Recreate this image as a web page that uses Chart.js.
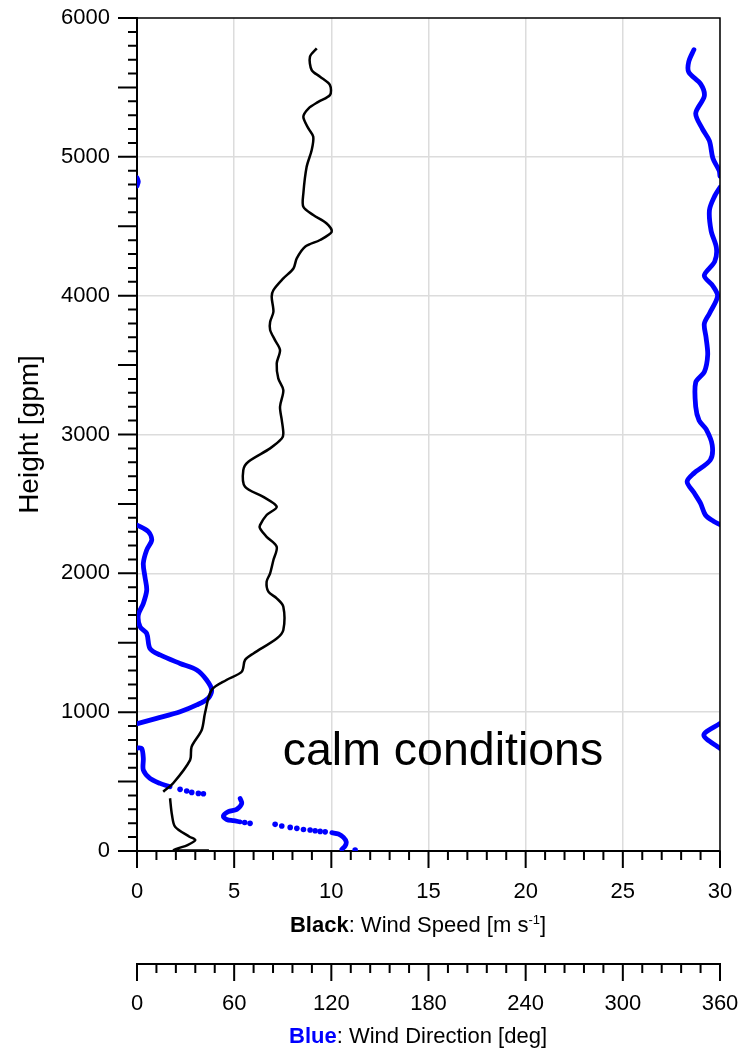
<!DOCTYPE html>
<html>
<head>
<meta charset="utf-8">
<script src="https://cdn.jsdelivr.net/npm/chart.js@4.4.1/dist/chart.umd.min.js"></script>
<style>
  body { margin: 0; background: #fff; }
  canvas { display: block; }
</style>
</head>
<body>
<canvas id="profileChart" width="740" height="1052"></canvas>
<script>
// Wind speed [m/s], height [gpm]; the sounding drops out between ~380 and ~420 gpm
const speedLow = [[3.7,3],[1.9,6],[2.1,19],[2.6,43],[3.0,79],[2.7,103],[1.96,175],[1.8,259],[1.7,380]];
const speedHigh = [[1.35,427],[1.87,490],[2.73,655],[2.81,751],[3.33,872],[3.5,994],[3.84,1160],[4.6,1232],
  [5.39,1291],[5.56,1376],[5.99,1423],[7.19,1531],[7.53,1592],[7.53,1760],[7.19,1820],[6.76,1868],[6.67,1940],
  [6.85,2000],[7.02,2096],[7.19,2191],[6.67,2263],[6.33,2323],[6.33,2347],[6.67,2420],[7.19,2480],[6.5,2551],
  [5.56,2623],[5.47,2744],[5.73,2804],[6.85,2900],[7.45,2971],[7.53,3007],[7.45,3104],[7.36,3200],[7.53,3320],
  [7.27,3404],[7.19,3512],[7.36,3608],[7.1,3680],[6.85,3753],[6.85,3811],[7.02,3884],[6.93,3992],[7.02,4040],
  [7.53,4124],[8.05,4196],[8.22,4268],[8.65,4352],[9.42,4401],[10.02,4460],[9.76,4520],[9.07,4581],[8.56,4640],
  [8.56,4736],[8.73,4928],[8.99,5049],[9.07,5145],[8.82,5205],[8.56,5288],[8.82,5348],[9.33,5396],[9.93,5445],
  [9.93,5517],[9.42,5577],[8.99,5625],[8.9,5721],[9.25,5781]];

// Wind direction [deg], height [gpm]; pieces split where the profile wraps past 0/360
const dirTop = [[343.9,5772],[340.7,5685],[340.7,5610],[348.1,5524],[350.3,5437],[345.0,5313],[349.2,5200],
  [353.5,5114],[355.6,4989],[359.5,4900],[360,4860]];
const dirWrap = [[0,4850],[0.8,4820],[0,4790]];
const dirUpper = [[360,4780],[356.7,4717],[353.5,4617],[354.5,4468],[357.8,4344],[356.7,4245],[350.3,4145],
  [355.6,4070],[358.5,3996],[353.5,3872],[350.3,3797],[351.4,3698],[352.4,3574],[350.3,3450],[345.0,3375],
  [345.0,3200],[347.1,3101],[351.4,3038],[355.2,2924],[354,2816],[343.8,2720],[339.7,2660],[344,2580],
  [348,2504],[351,2420],[356,2375],[360,2350]];
const dirMid = [[0,2348],[7.0,2300],[9.1,2240],[6.0,2168],[3.9,2072],[4.9,1975],[6.0,1880],[3.9,1783],
  [0.8,1700],[1.9,1615],[6.0,1567],[8.0,1459],[14.2,1412],[26.6,1351],[36.9,1304],[43.0,1232],[46.1,1160],
  [44.0,1100],[36.9,1052],[26.6,1003],[12.1,955],[0.8,919],[0,916]];
const dirKink = [[360,919],[350,835],[360,739]];
const dirLow = [[0,742],[2.9,739],[3.9,667],[3.9,583],[8.0,523],[14.2,487],[20.4,463]];
const dirHook = [[63.7,378],[64.7,343],[61.6,300],[56.4,283],[53.3,251],[55.4,227],[59.5,218],[63.7,210]];
const dirSurface = [[120.3,132],[124.4,122],[127.5,98],[129.2,66],[128.5,36],[126.5,12]];
// single readings where the balloon climbed fast
const dirDots = [[26.6,444],[30.7,432],[33.8,422],[37.9,415],[41.0,412],[66.5,205],[69.8,199],
  [85.3,192],[89.4,180],[94.6,170],[98.7,163],[102.8,155],[106.9,151],[110,146],[113.1,141],[116.2,138],
  [134.7,6]];

const FONT = '"Liberation Sans", Arial, sans-serif';
const toXY = arr => arr.map(p => ({ x: p[0], y: p[1] }));

function speedSet(arr) {
  return { data: toXY(arr), xAxisID: 'x', showLine: true, borderColor: '#000', borderWidth: 2.5,
    pointRadius: 0, tension: 0.3, fill: false };
}
function dirSet(arr) {
  return { data: toXY(arr), xAxisID: 'x2', showLine: true, borderColor: '#0000ff', borderWidth: 4.8,
    pointRadius: 0, tension: 0.3, fill: false, borderCapStyle: 'round' };
}

const datasets = [speedSet(speedLow), speedSet(speedHigh)];
[dirTop, dirWrap, dirUpper, dirMid, dirKink, dirLow, dirHook, dirSurface].forEach(d => datasets.push(dirSet(d)));
datasets.push({ data: toXY(dirDots), xAxisID: 'x2', showLine: false, pointRadius: 2.8,
  backgroundColor: '#0000ff', borderWidth: 0 });

// frame, minor/major tick marks, axis titles and the note
const decorations = {
  id: 'decorations',
  afterDatasetsDraw(chart) {
    const { ctx, chartArea: a, scales } = chart;
    ctx.save();
    ctx.strokeStyle = '#000';
    ctx.lineWidth = 1.5;
    ctx.beginPath();
    ctx.moveTo(a.left, a.top);
    ctx.lineTo(a.right, a.top);
    ctx.lineTo(a.right, a.bottom);
    ctx.stroke();

    ctx.lineWidth = 2;
    ctx.beginPath();
    for (let v = 0; v <= 6000; v += 100) {
      const py = scales.y.getPixelForValue(v);
      ctx.moveTo(a.left, py);
      ctx.lineTo(a.left - (v % 500 === 0 ? 19 : 9), py);
    }
    for (let v = 0; v <= 30; v += 1) {
      const px = scales.x.getPixelForValue(v);
      ctx.moveTo(px, scales.x.top);
      ctx.lineTo(px, scales.x.top + (v % 5 === 0 ? 17 : 9));
    }
    for (let v = 0; v <= 360; v += 12) {
      const px = scales.x2.getPixelForValue(v);
      ctx.moveTo(px, scales.x2.top);
      ctx.lineTo(px, scales.x2.top + (v % 60 === 0 ? 17 : 9));
    }
    ctx.stroke();

    ctx.fillStyle = '#000';
    ctx.textBaseline = 'alphabetic';

    // y title
    ctx.save();
    ctx.translate(30, (a.top + a.bottom) / 2);
    ctx.rotate(-Math.PI / 2);
    ctx.font = '28px ' + FONT;
    ctx.textAlign = 'center';
    ctx.textBaseline = 'middle';
    ctx.fillText('Height [gpm]', 0, 0);
    ctx.restore();

    ctx.textAlign = 'left';
    const cx = 418;

    // speed axis title with bold lead word and superscript
    const b1 = 'bold 22px ' + FONT, r1 = '22px ' + FONT, s1 = '13px ' + FONT;
    const parts1 = [['Black', b1, '#000', 0], [': Wind Speed [m s', r1, '#000', 0], ['-1', s1, '#000', -8], [']', r1, '#000', 0]];
    drawParts(ctx, parts1, cx, scales.x.top + 81);

    const parts2 = [['Blue', b1, '#0000ff', 0], [': Wind Direction [deg]', r1, '#000', 0]];
    drawParts(ctx, parts2, cx, scales.x2.top + 79);

    ctx.font = '46.5px ' + FONT;
    ctx.fillStyle = '#000';
    ctx.fillText('calm conditions', scales.x.getPixelForValue(7.5), scales.y.getPixelForValue(620));
    ctx.restore();
  }
};

function drawParts(ctx, parts, center, baseline) {
  let total = 0;
  parts.forEach(p => { ctx.font = p[1]; total += ctx.measureText(p[0]).width; });
  let x = center - total / 2;
  parts.forEach(p => {
    ctx.font = p[1];
    ctx.fillStyle = p[2];
    ctx.fillText(p[0], x, baseline + p[3]);
    x += ctx.measureText(p[0]).width;
  });
}

const tickFont = { family: FONT, size: 22 };
const plain = v => String(v);

// keep label overhang out of the layout so the plot box sits where padding puts it
function fixX(h) {
  return s => { s.height = h; s.paddingLeft = 0; s.paddingRight = 0; };
}

new Chart(document.getElementById('profileChart'), {
  type: 'scatter',
  data: { datasets: datasets },
  options: {
    responsive: false,
    animation: false,
    layout: { padding: { top: 18, right: 20, left: 0, bottom: 0 } },
    plugins: { legend: { display: false }, tooltip: { enabled: false } },
    scales: {
      x: {
        type: 'linear', position: 'bottom', min: 0, max: 30, weight: 1,
        ticks: { stepSize: 5, font: tickFont, color: '#000', padding: 28, maxRotation: 0, callback: plain },
        grid: { color: '#dcdcdc', lineWidth: 1.5, drawTicks: false },
        border: { display: true, color: '#000', width: 2 },
        afterFit: fixX(113)
      },
      x2: {
        type: 'linear', position: 'bottom', min: 0, max: 360, weight: 2,
        ticks: { stepSize: 60, font: tickFont, color: '#000', padding: 27, maxRotation: 0, callback: plain },
        grid: { drawOnChartArea: false, drawTicks: false },
        border: { display: true, color: '#000', width: 2 },
        afterFit: fixX(88)
      },
      y: {
        type: 'linear', min: 0, max: 6000,
        ticks: { stepSize: 1000, font: tickFont, color: '#000', padding: 27, callback: plain },
        grid: { color: ctx => ctx.tick.value === 6000 ? 'transparent' : '#dcdcdc', lineWidth: 1.5, drawTicks: false },
        border: { display: true, color: '#000', width: 2 },
        afterFit: s => { s.width = 137; s.paddingTop = 0; s.paddingBottom = 0; }
      }
    }
  },
  plugins: [decorations]
});
</script>
</body>
</html>
